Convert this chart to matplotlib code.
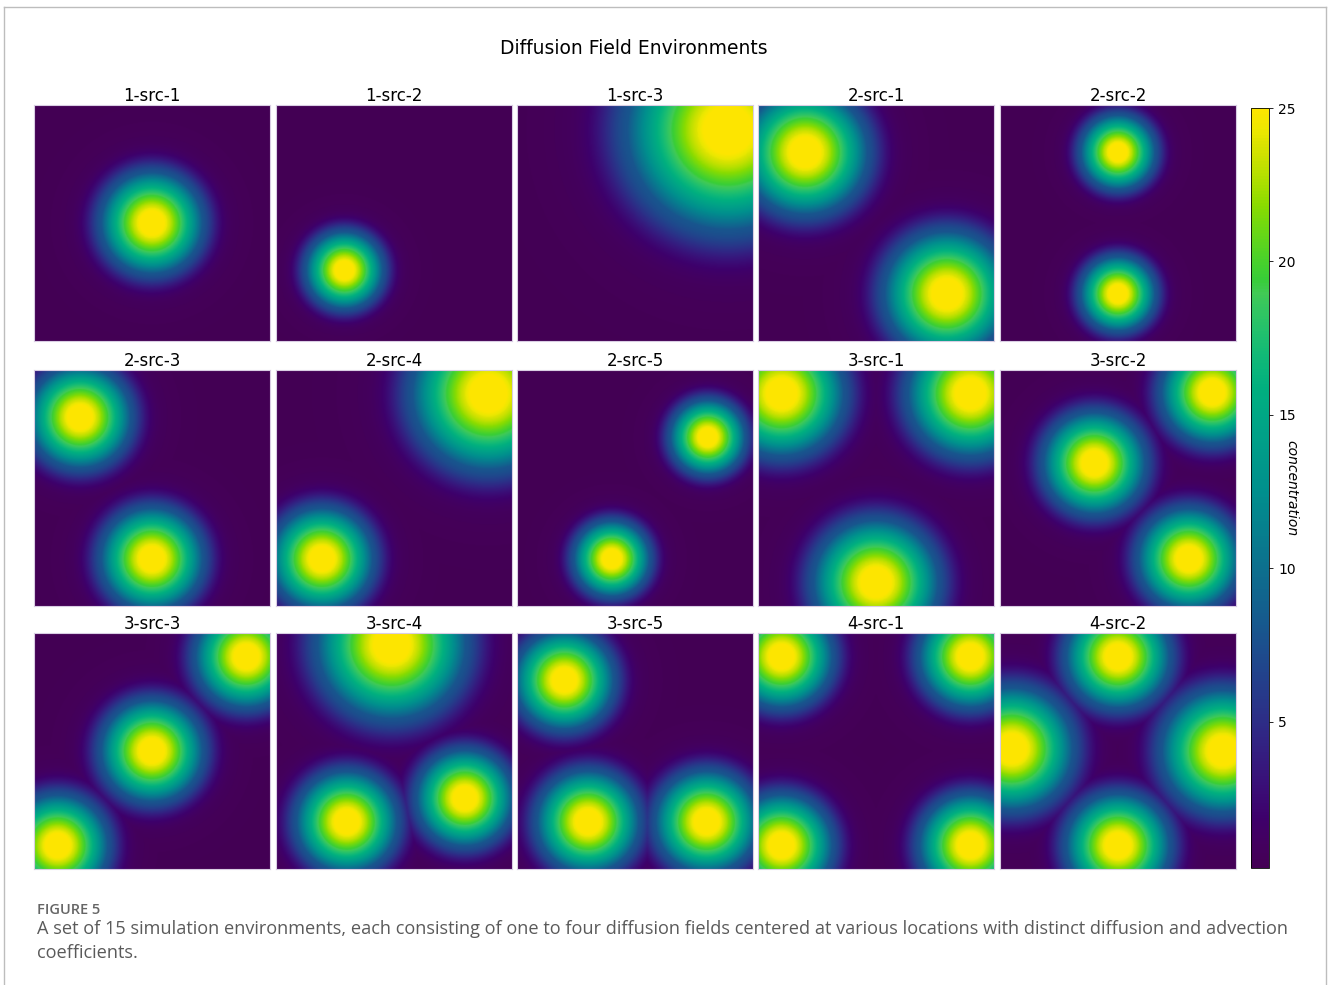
import numpy as np
import matplotlib
matplotlib.use("Agg")
import matplotlib.pyplot as plt
from matplotlib.lines import Line2D
from matplotlib.colors import ListedColormap, rgb_to_hsv, hsv_to_rgb

# panel titles, row by row
titles = ["1-src-1", "1-src-2", "1-src-3", "2-src-1", "2-src-2",
          "2-src-3", "2-src-4", "2-src-5", "3-src-1", "3-src-2",
          "3-src-3", "3-src-4", "3-src-5", "4-src-1", "4-src-2"]

# source centres (fraction of panel, y measured from the top) and plume radius
src_x = [[0.50], [0.29], [0.89], [0.20, 0.80], [0.50, 0.50],
         [0.195, 0.50], [0.90, 0.195], [0.805, 0.40], [0.10, 0.90, 0.50], [0.90, 0.40, 0.80],
         [0.90, 0.50, 0.10], [0.49, 0.30, 0.80], [0.20, 0.30, 0.80], [0.10, 0.90, 0.10, 0.90],
         [0.50, 0.05, 0.945, 0.50]]
src_y = [[0.50], [0.70], [0.105], [0.20, 0.80], [0.20, 0.80],
         [0.20, 0.80], [0.10, 0.80], [0.285, 0.80], [0.10, 0.10, 0.90], [0.095, 0.395, 0.80],
         [0.10, 0.50, 0.90], [0.05, 0.80, 0.70], [0.20, 0.80, 0.80], [0.10, 0.10, 0.90, 0.90],
         [0.10, 0.49, 0.50, 0.90]]
src_r = [[0.212], [0.16], [0.42], [0.26, 0.26], [0.155, 0.155],
         [0.212, 0.212], [0.318, 0.212], [0.155, 0.157], [0.26, 0.26, 0.26], [0.212, 0.212, 0.21],
         [0.212, 0.212, 0.21], [0.31, 0.21, 0.20], [0.205, 0.212, 0.212], [0.212, 0.212, 0.212, 0.212],
         [0.215, 0.255, 0.255, 0.215]]

cbar_ticks = [5, 10, 15, 20, 25]

BASE = 0.25


def plume(u):
    inner = 8 + 19 * (1 - u ** 1.5)
    d = np.clip(u - 1, 0, None)
    outer = 5.5 * np.exp(-(d / 0.3) ** 2) + 2.25 * np.exp(-d / 0.4)
    return np.where(u <= 1, inner, outer)


def field(xs, ys, rs, n=300):
    g = (np.arange(n) + 0.5) / n
    X, Y = np.meshgrid(g, g)
    out = np.zeros_like(X)
    for x0, y0, R in zip(xs, ys, rs):
        u = np.sqrt((X - x0) ** 2 + (Y - y0) ** 2) / R
        out = np.maximum(out, plume(u))
    return out + BASE


# viridis, more saturated and slightly greener in the upper half, like the printed figure
pos = np.linspace(0, 1, 256)
base = plt.get_cmap("viridis")(pos)[:, :3]
hsv = rgb_to_hsv(base)
hsv[:, 1] = np.clip(hsv[:, 1] * 1.3, 0, 1)
hsv[:, 0] = hsv[:, 0] + 0.025 * np.exp(-((pos - 0.75) / 0.15) ** 2)
cmap = ListedColormap(hsv_to_rgb(hsv))

W, H = 1328, 985
fig = plt.figure(figsize=(W / 100, H / 100), dpi=100)

col_left = [34, 276, 517, 758, 1000]
row_top = [105, 370, 633]
size = 236

im = None
for i, t in enumerate(titles):
    r, c = divmod(i, 5)
    ax = fig.add_axes([col_left[c] / W, (H - row_top[r] - size) / H, size / W, size / H])
    F = field(src_x[i], src_y[i], src_r[i])
    im = ax.imshow(F, cmap=cmap, vmin=0.23, vmax=25, extent=(0, 1, 1, 0),
                   origin="upper", interpolation="bilinear", aspect="auto")
    ax.set_xticks([])
    ax.set_yticks([])
    for sp in ax.spines.values():
        sp.set_color("#d9cde3")
        sp.set_linewidth(0.8)
    ax.set_title(t, fontsize=12, pad=3)

cax = fig.add_axes([1251 / W, (H - 868) / H, 18 / W, 760 / H])
cb = fig.colorbar(im, cax=cax, ticks=cbar_ticks)
cb.ax.tick_params(labelsize=10, length=3, width=0.6)
cb.outline.set_linewidth(0.6)
cb.set_label("concentration", rotation=270, labelpad=2, fontsize=10, style="italic")

fig.text(634 / W, 1 - 48 / H, "Diffusion Field Environments", ha="center", va="center", fontsize=13.5)

fig.text(37 / W, 1 - 910 / H, "FIGURE 5", ha="left", va="center", fontsize=10.5,
         color="#666666", family="Open Sans", fontweight="semibold")
fig.text(37 / W, 1 - 941 / H,
         "A set of 15 simulation environments, each consisting of one to four diffusion fields "
         "centered at various locations with distinct diffusion and advection\ncoefficients.",
         ha="left", va="center", fontsize=13.1, color="#5a5a5a", family="Open Sans",
         linespacing=1.5)

# page frame
fc = "#bdbdbd"
fig.add_artist(Line2D([4 / W, 4 / W], [0, 1 - 7 / H], color=fc, lw=1))
fig.add_artist(Line2D([4 / W, 1326 / W], [1 - 7 / H, 1 - 7 / H], color=fc, lw=1))
fig.add_artist(Line2D([1326 / W, 1326 / W], [0, 1 - 7 / H], color=fc, lw=1))

fig.savefig("out.png", dpi=100)
